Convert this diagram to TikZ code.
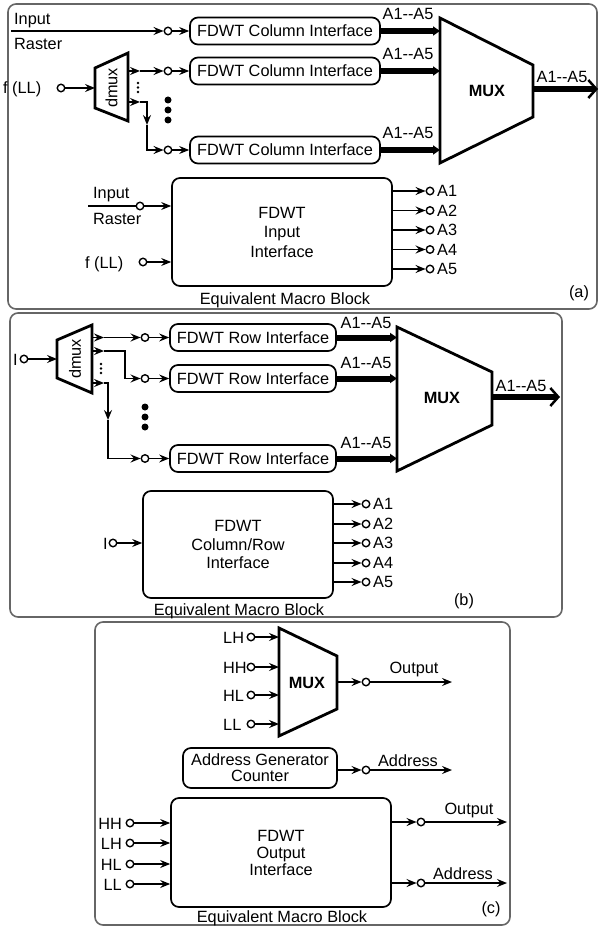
\documentclass[tikz,border=0pt]{standalone}
\usepackage{fontspec}
\setmainfont{Liberation Sans}
\usetikzlibrary{arrows.meta,calc}
\newcommand\ddash{-\kern0pt-}
\tikzset{
  every node/.style={font=\fontsize{16.3}{18.5}\selectfont, inner sep=1pt},
  box/.style={draw, rounded corners=8pt, line width=1.7pt, align=center, inner sep=0pt},
  term/.style={circle, draw, fill=white, inner sep=0pt, minimum size=7.5pt, line width=1.4pt},
  conn/.style={line width=1.5pt, -{Stealth[length=10pt,width=8pt,inset=3.5pt]}},
  wire/.style={line width=1.5pt},
  bus/.style={line width=6pt, -{Triangle[length=7pt,width=9pt]}},
  busout/.style={line width=6pt, -{Straight Barb[length=8pt,width=18pt,line width=2.5pt]}},
  muxshape/.style={line width=2.8pt, line join=miter},
  frame/.style={draw=black!60, line width=1.6pt, rounded corners=8pt},
  bigdot/.style={circle, fill, inner sep=0pt, minimum size=7pt},
  smalldot/.style={circle, fill, inner sep=0pt, minimum size=2.8pt},
  muxlbl/.style={font=\fontsize{16.3}{18.5}\selectfont\bfseries},
}
\begin{document}
\begin{tikzpicture}[x=1pt,y=-1pt]
\useasboundingbox (0,0) rectangle (602,928);

%% ================= Panel (a) =================
\draw[frame] (8,4) rectangle (597,309);

\node[anchor=base west] (inA) at (13,25) {Input};
\node[anchor=base west] (rsA) at (13,50) {Raster};
\coordinate (rasA) at (11,31);
\node[term] (ta1) at (168,31) {};
\draw[conn] (rasA) -- (ta1);

\node[box, minimum width=190pt, minimum height=27pt] (ca1) at (285,31) {FDWT Column Interface};
\node[box, minimum width=190pt, minimum height=27pt] (ca2) at (285,71) {FDWT Column Interface};
\node[box, minimum width=190pt, minimum height=27pt] (ca3) at (285,150) {FDWT Column Interface};
\draw[conn] (ta1) -- (ca1.west);

% dmux (a)
\draw[muxshape] (95,68) -- (128,53) -- (128,121) -- (95,108) -- cycle;
\node[rotate=90] (dmxa) at (111.5,88) {dmux};
\node[anchor=base west] (fllA) at (2,94) {f (LL)};
\node[term] (tfa) at (61,88) {};
\coordinate (dina) at (95,88);
\draw[conn] (tfa) -- (dina);

\coordinate (da1) at (128,71);
\coordinate (da1m) at (140,71);
\node[term] (ta2) at (168,71) {};
\draw[conn] (da1) -- (da1m);
\draw[conn] (da1m) -- (ta2);
\draw[conn] (ta2) -- (ca2.west);

\node[smalldot] (sa1) at (138,83) {};
\node[smalldot] (sa2) at (138,87.5) {};
\node[smalldot] (sa3) at (138,92) {};

\coordinate (da2) at (128,102);
\coordinate (da2m) at (140,102);
\coordinate (da2c) at (147,102);
\coordinate (da2d) at (147,125);
\node[term] (ta3) at (168,150) {};
\draw[conn] (da2) -- (da2m);
\draw[conn] (da2m) -- (da2c) -- (da2d);
\draw[conn] (da2d) |- (ta3);
\draw[conn] (ta3) -- (ca3.west);

\node[bigdot] (ba1) at (168,100) {};
\node[bigdot] (ba2) at (168,110) {};
\node[bigdot] (ba3) at (168,120) {};

% MUX (a)
\draw[muxshape] (440,18) -- (533,65) -- (533,117) -- (440,163) -- cycle;
\node[muxlbl] (muxa) at (487,91) {MUX};
\coordinate (ma1) at (440,31);
\coordinate (ma2) at (440,71);
\coordinate (ma3) at (440,150);
\draw[bus] (ca1.east) -- (ma1);
\draw[bus] (ca2.east) -- (ma2);
\draw[bus] (ca3.east) -- (ma3);
\node[anchor=base] (la1) at (408,20) {A1\ddash A5};
\node[anchor=base] (la2) at (408,60) {A1\ddash A5};
\node[anchor=base] (la3) at (408,139) {A1\ddash A5};
\coordinate (mao) at (533,89);
\coordinate (aout) at (598,89);
\draw[busout] (mao) -- (aout);
\node[anchor=base] (lao) at (562,83) {A1\ddash A5};

% Equivalent block (a)
\node[box, minimum width=220pt, minimum height=108pt, font=\fontsize{16.3}{19.5}\selectfont] (fa) at (282,232) {FDWT\\Input\\Interface};
\node[anchor=base west] (inA2) at (92,198) {Input};
\node[anchor=base west] (rsA2) at (92,224) {Raster};
\coordinate (rasA2) at (88,206);
\node[term] (ta4) at (140,206) {};
\draw[wire] (rasA2) -- (ta4);
\draw[conn] (ta4) -- (ta4 -| fa.west);
\node[anchor=base west] (fllA2) at (84,268) {f (LL)};
\node[term] (ta5) at (143,262) {};
\draw[conn] (ta5) -- (ta5 -| fa.west);
\foreach \i/\y in {1/191,2/210.5,3/230,4/249.5,5/269}{
  \node[term] (toa\i) at (430,\y) {};
  \draw[conn] (toa\i -| fa.east) -- (toa\i);
  \node[anchor=west] (loa\i) at (436,\y) {A\i};
}
\node[anchor=base] (eqa) at (285,304) {Equivalent Macro Block};
\node[anchor=base] (pa) at (579,297) {(a)};

%% ================= Panel (b) =================
\draw[frame] (10,313) rectangle (562,617);

\node[anchor=base west] (iB) at (12,365) {I};
\node[term] (tib) at (24,359) {};
\coordinate (dinb) at (57,359);
\draw[conn] (tib) -- (dinb);
\draw[muxshape] (57,340) -- (92,325) -- (92,393) -- (57,378) -- cycle;
\node[rotate=90] (dmxb) at (75,359) {dmux};

\node[box, minimum width=166pt, minimum height=27pt] (rb1) at (253,337.5) {FDWT Row Interface};
\node[box, minimum width=166pt, minimum height=27pt] (rb2) at (253,378.5) {FDWT Row Interface};
\node[box, minimum width=166pt, minimum height=27pt] (rb3) at (253,458.5) {FDWT Row Interface};

\coordinate (db1) at (92,337.5);
\coordinate (db1m) at (104,337.5);
\node[term] (tb1) at (145,337.5) {};
\draw[conn] (db1) -- (db1m);
\draw[conn] (db1m) -- (tb1);
\draw[conn] (tb1) -- (rb1.west);

\coordinate (db2) at (92,351);
\coordinate (db2m) at (104,351);
\coordinate (db2c) at (125,351);
\node[term] (tb2) at (145,378.5) {};
\draw[conn] (db2) -- (db2m);
\draw[conn] (db2m) -- (db2c) |- (tb2);
\draw[conn] (tb2) -- (rb2.west);

\node[smalldot] (sb1) at (101,364) {};
\node[smalldot] (sb2) at (101,368.5) {};
\node[smalldot] (sb3) at (101,373) {};

\coordinate (db3) at (92,383);
\coordinate (db3m) at (104,383);
\coordinate (db3c) at (108,383);
\coordinate (db3d) at (108,420);
\node[term] (tb3) at (145,458.5) {};
\draw[conn] (db3) -- (db3m);
\draw[conn] (db3m) -- (db3c) -- (db3d);
\draw[conn] (db3d) |- (tb3);
\draw[conn] (tb3) -- (rb3.west);

\node[bigdot] (bb1) at (145,407) {};
\node[bigdot] (bb2) at (145,417) {};
\node[bigdot] (bb3) at (145,427) {};

\draw[muxshape] (397,327) -- (492,372) -- (492,425) -- (397,471) -- cycle;
\node[muxlbl] (muxb) at (442,398) {MUX};
\coordinate (mb1) at (397,337.5);
\coordinate (mb2) at (397,378.5);
\coordinate (mb3) at (397,458.5);
\draw[bus] (rb1.east) -- (mb1);
\draw[bus] (rb2.east) -- (mb2);
\draw[bus] (rb3.east) -- (mb3);
\node[anchor=base] (lb1) at (366,328) {A1\ddash A5};
\node[anchor=base] (lb2) at (366,368) {A1\ddash A5};
\node[anchor=base] (lb3) at (366,448) {A1\ddash A5};
\coordinate (mbo) at (492,397);
\coordinate (bout) at (560,397);
\draw[busout] (mbo) -- (bout);
\node[anchor=base] (lbo) at (521,391) {A1\ddash A5};

\node[box, minimum width=190pt, minimum height=107pt, font=\fontsize{16.3}{18.5}\selectfont] (fb) at (238,544.5) {FDWT\\Column/Row\\Interface};
\node[anchor=base west] (iB2) at (102,549) {I};
\node[term] (tib2) at (113,543) {};
\draw[conn] (tib2) -- (tib2 -| fb.west);
\foreach \i/\y in {1/504,2/524,3/543,4/563,5/582}{
  \node[term] (tob\i) at (366,\y) {};
  \draw[conn] (tob\i -| fb.east) -- (tob\i);
  \node[anchor=west] (lob\i) at (372,\y) {A\i};
}
\node[anchor=base] (eqb) at (239,615) {Equivalent Macro Block};
\node[anchor=base] (pb) at (464,605) {(b)};

%% ================= Panel (c) =================
\draw[frame] (95,622) rectangle (510,925);

\draw[muxshape] (279,628) -- (337,656) -- (337,709) -- (279,736) -- cycle;
\node[muxlbl] (muxc) at (307,683) {MUX};
\foreach \n/\y in {LH/637,HH/667,HL/695,LL/724}{
  \node[anchor=base west] (lc\n) at (222,\y+6) {\n};
  \node[term] (tc\n) at (251,\y) {};
  \coordinate (mc\n) at (279,\y);
  \draw[conn] (tc\n) -- (mc\n);
}
\coordinate (mco) at (337,682);
\node[term] (tco) at (366,682) {};
\coordinate (eco) at (452,682);
\draw[conn] (mco) -- (tco);
\draw[conn] (tco) -- (eco);
\node[anchor=base] (lco) at (414,673) {Output};

\node[box, minimum width=154pt, minimum height=40pt, font=\fontsize{16.3}{16}\selectfont] (agc) at (260,768) {Address Generator\\Counter};
\node[term] (tca) at (366,770) {};
\coordinate (eca) at (452,770);
\draw[conn] (tca -| agc.east) -- (tca);
\draw[conn] (tca) -- (eca);
\node[anchor=base] (lca) at (408,766) {Address};

\node[box, minimum width=220pt, minimum height=109pt, font=\fontsize{16.3}{17}\selectfont] (fc) at (281,852.5) {FDWT\\Output\\Interface};
\foreach \n/\y in {HH/823,LH/843,HL/864,LL/884}{
  \node[anchor=base east] (lci\n) at (123,\y+6) {\n};
  \node[term] (tci\n) at (130,\y) {};
  \draw[conn] (tci\n) -- (tci\n -| fc.west);
}
\node[term] (tco2) at (421,822) {};
\coordinate (eco2) at (507,822);
\draw[conn] (tco2 -| fc.east) -- (tco2);
\draw[conn] (tco2) -- (eco2);
\node[anchor=base] (lco2) at (469,814) {Output};
\node[term] (tca2) at (421,883) {};
\coordinate (eca2) at (507,883);
\draw[conn] (tca2 -| fc.east) -- (tca2);
\draw[conn] (tca2) -- (eca2);
\node[anchor=base] (lca2) at (463,879.5) {Address};

\node[anchor=base] (eqc) at (282,922) {Equivalent Macro Block};
\node[anchor=base] (pc) at (491,913) {(c)};
\end{tikzpicture}
\end{document}
